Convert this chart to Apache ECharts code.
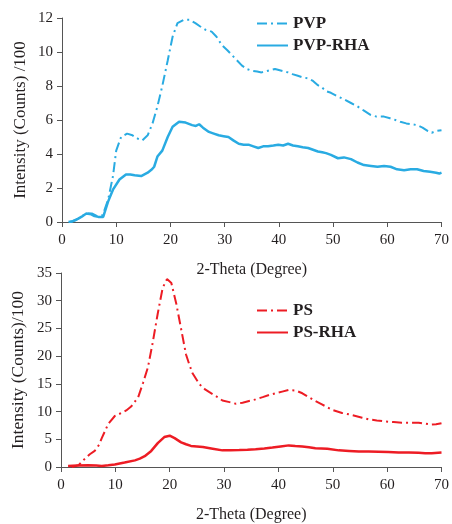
<!DOCTYPE html>
<html>
<head>
<meta charset="utf-8">
<script src="https://cdn.jsdelivr.net/npm/echarts@6/dist/echarts.min.js"></script>
<style>
  html, body { margin: 0; padding: 0; background: #fff; }
  #chart { width: 452px; height: 524px; }
</style>
</head>
<body>
<div id="chart"></div>
<script>
// XRD patterns: intensity (counts/100) against 2-theta (degrees)
const xTicks = [0, 10, 20, 30, 40, 50, 60, 70];

const pvpTheta = [1.5, 2.5, 3.5, 4.5, 5.5, 6.5, 7.5, 8.5, 9.4, 10.0, 10.9, 12.0, 13.0, 14.0, 14.8, 15.8, 16.7, 17.6, 18.5, 19.5, 20.4, 21.3, 22.5, 23.5, 24.6, 25.5, 26.5, 27.6, 28.5, 29.5, 30.5, 31.4, 32.3, 33.2, 34.1, 35.0, 36.0, 36.8, 38.0, 39.3, 40.5, 41.7, 42.5, 43.5, 44.5, 45.4, 46.3, 47.2, 48.0, 48.7, 49.6, 50.8, 52.1, 53.3, 54.5, 55.7, 56.9, 58.0, 59.4, 60.5, 61.5, 62.4, 63.5, 64.5, 65.5, 66.5, 67.5, 68.2, 69.0, 70.0];
const pvpIntensity = [0.0, 0.1, 0.3, 0.5, 0.5, 0.35, 0.4, 1.3, 2.7, 4.2, 5.0, 5.2, 5.1, 4.9, 4.8, 5.1, 5.8, 6.8, 8.0, 9.5, 10.9, 11.7, 11.9, 11.9, 11.7, 11.5, 11.3, 11.2, 10.9, 10.4, 10.1, 9.8, 9.5, 9.2, 9.0, 8.9, 8.85, 8.8, 8.9, 9.0, 8.9, 8.8, 8.7, 8.6, 8.5, 8.45, 8.3, 8.05, 7.9, 7.7, 7.6, 7.4, 7.2, 7.0, 6.8, 6.55, 6.3, 6.2, 6.2, 6.1, 6.0, 5.9, 5.8, 5.75, 5.7, 5.55, 5.35, 5.25, 5.35, 5.4];

const pvpRhaTheta = [1.2, 2.0, 3.0, 3.8, 4.5, 5.4, 6.0, 6.7, 7.6, 8.5, 9.4, 10.6, 11.8, 12.6, 13.4, 14.6, 15.8, 16.6, 17.0, 17.6, 18.5, 19.5, 20.4, 21.6, 22.8, 24.0, 24.7, 25.3, 26.0, 27.1, 28.0, 28.9, 29.8, 30.7, 31.6, 32.6, 33.5, 34.4, 35.3, 36.2, 37.1, 38.0, 39.0, 39.9, 40.8, 41.7, 42.6, 43.5, 44.4, 45.4, 46.3, 47.2, 48.0, 48.7, 49.6, 50.9, 52.0, 53.3, 54.5, 55.7, 57.0, 58.2, 59.4, 60.6, 61.8, 63.1, 64.3, 65.5, 66.7, 67.9, 69.0, 69.6, 70.0];
const pvpRhaIntensity = [0.0, 0.05, 0.2, 0.35, 0.5, 0.45, 0.35, 0.3, 0.3, 1.2, 1.9, 2.5, 2.8, 2.8, 2.75, 2.7, 2.9, 3.1, 3.25, 3.85, 4.2, 5.0, 5.6, 5.9, 5.85, 5.7, 5.65, 5.75, 5.55, 5.3, 5.2, 5.1, 5.05, 5.0, 4.8, 4.6, 4.55, 4.55, 4.45, 4.35, 4.45, 4.45, 4.5, 4.55, 4.5, 4.6, 4.5, 4.45, 4.4, 4.35, 4.25, 4.15, 4.1, 4.05, 3.95, 3.75, 3.8, 3.7, 3.5, 3.35, 3.3, 3.25, 3.3, 3.25, 3.1, 3.05, 3.1, 3.1, 3.0, 2.95, 2.9, 2.85, 2.9];

const psTheta = [2.0, 3.2, 4.4, 5.3, 6.2, 7.0, 7.5, 8.7, 9.9, 11.1, 12.0, 12.9, 14.2, 15.1, 16.0, 16.9, 17.8, 18.7, 19.5, 20.3, 21.2, 22.1, 23.0, 23.6, 24.2, 25.5, 26.5, 27.3, 28.5, 29.7, 31.0, 32.2, 33.4, 34.6, 35.8, 37.1, 38.3, 39.5, 40.7, 41.9, 43.2, 44.4, 45.6, 46.8, 48.0, 49.9, 51.7, 53.0, 54.2, 55.4, 56.6, 58.1, 59.7, 61.2, 62.7, 64.2, 65.8, 67.0, 68.2, 69.0, 70.0];
const psIntensity = [0.0, 0.3, 1.5, 2.3, 2.9, 4.0, 5.2, 7.8, 9.2, 9.75, 10.2, 10.9, 12.6, 15.2, 18.0, 22.6, 27.7, 32.3, 33.9, 33.2, 29.5, 24.9, 20.3, 18.5, 16.9, 14.9, 14.0, 13.5, 12.8, 12.0, 11.7, 11.4, 11.6, 11.9, 12.2, 12.6, 13.0, 13.3, 13.6, 13.9, 13.8, 13.3, 12.6, 11.9, 11.3, 10.3, 9.75, 9.5, 9.2, 8.9, 8.6, 8.4, 8.2, 8.1, 8.0, 8.0, 8.0, 7.8, 7.65, 7.7, 7.9];

const psRhaTheta = [1.3, 3.0, 5.0, 6.5, 7.5, 8.7, 9.9, 11.7, 13.6, 14.5, 15.4, 16.6, 17.8, 19.0, 20.0, 20.9, 22.1, 23.0, 23.9, 25.0, 26.1, 27.9, 29.7, 31.2, 32.8, 34.3, 35.8, 37.4, 38.9, 40.4, 41.9, 43.1, 44.4, 45.6, 46.8, 49.0, 51.1, 53.0, 54.8, 56.6, 58.4, 60.2, 62.1, 64.0, 65.8, 67.0, 68.2, 70.0];
const psRhaIntensity = [0.2, 0.25, 0.3, 0.25, 0.2, 0.3, 0.45, 0.8, 1.2, 1.5, 1.95, 2.9, 4.3, 5.4, 5.65, 5.2, 4.45, 4.1, 3.8, 3.7, 3.6, 3.3, 3.0, 3.0, 3.05, 3.1, 3.2, 3.35, 3.5, 3.7, 3.9, 3.8, 3.7, 3.55, 3.4, 3.3, 3.0, 2.9, 2.8, 2.8, 2.75, 2.7, 2.6, 2.6, 2.55, 2.5, 2.5, 2.6];

const topYTicks = [0, 2, 4, 6, 8, 10, 12];
const bottomYTicks = [0, 5, 10, 15, 20, 25, 30, 35];

const BLUE = '#29abe2';
const RED = '#ed1c24';
const INK = '#231f20';
const AXIS = '#555555';
const SERIF = '"Liberation Serif", "Times New Roman", serif';
const DASH_DOT = [10, 4, 2, 4];

const pairs = (xs, ys) => xs.map((x, i) => [x, ys[i]]);

function xAxisFor(gridIndex) {
  return {
    type: 'value', gridIndex,
    min: xTicks[0], max: xTicks[xTicks.length - 1], interval: xTicks[1] - xTicks[0],
    name: '2-Theta (Degree)', nameLocation: 'middle', nameGap: 40,
    nameTextStyle: { fontFamily: SERIF, fontSize: 16, color: INK },
    axisLine: { show: true, lineStyle: { color: AXIS, width: 1 } },
    axisTick: { show: true, length: 5, lineStyle: { color: AXIS } },
    axisLabel: { fontFamily: SERIF, fontSize: 15, color: INK, margin: 11 },
    splitLine: { show: false }
  };
}

function yAxisFor(gridIndex, ticks, name, nameSize, nameGap) {
  return {
    type: 'value', gridIndex,
    min: ticks[0], max: ticks[ticks.length - 1], interval: ticks[1] - ticks[0],
    name, nameLocation: 'middle', nameGap, nameRotate: 90, nameMoveOverlap: false,
    nameTextStyle: { fontFamily: SERIF, fontSize: nameSize, color: INK },
    axisLine: { show: true, lineStyle: { color: AXIS, width: 1 } },
    axisTick: { show: true, length: 5, lineStyle: { color: AXIS } },
    axisLabel: { fontFamily: SERIF, fontSize: 15, color: INK, margin: 9 },
    splitLine: { show: false }
  };
}

function lineSeries(name, idx, data, color, dashed) {
  return {
    name, type: 'line', xAxisIndex: idx, yAxisIndex: idx,
    data, symbol: 'none', smooth: false, animation: false,
    lineStyle: { color, width: dashed ? 2 : 2.5, type: dashed ? DASH_DOT : 'solid' },
    itemStyle: { color }
  };
}

// Legend keys show only the line (dash-dot or solid), no marker
function legendFor(names, top) {
  return {
    data: names, left: 251, top, orient: 'vertical', itemGap: 5,
    itemWidth: 31, itemHeight: 14,
    itemStyle: { opacity: 0 },
    lineStyle: { width: 2 },
    textStyle: { fontFamily: SERIF, fontSize: 17, fontWeight: 'bold', color: INK }
  };
}

const chart = echarts.init(document.getElementById('chart'), null, { renderer: 'canvas' });
chart.setOption({
  backgroundColor: '#ffffff',
  animation: false,
  grid: [
    { left: 62, right: 8, top: 18, height: 204 },
    { left: 61, right: 8, top: 273, height: 204 }
  ],
  xAxis: [xAxisFor(0), xAxisFor(1)],
  yAxis: [
    yAxisFor(0, topYTicks, 'Intensity (Counts) /100', 17, 33),
    yAxisFor(1, bottomYTicks, 'Intensity (Counts)/100', 17.5, 34)
  ],
  legend: [legendFor(['PVP', 'PVP-RHA'], 10), legendFor(['PS', 'PS-RHA'], 297)],
  series: [
    lineSeries('PVP', 0, pairs(pvpTheta, pvpIntensity), BLUE, true),
    lineSeries('PVP-RHA', 0, pairs(pvpRhaTheta, pvpRhaIntensity), BLUE, false),
    lineSeries('PS', 1, pairs(psTheta, psIntensity), RED, true),
    lineSeries('PS-RHA', 1, pairs(psRhaTheta, psRhaIntensity), RED, false)
  ]
});
</script>
</body>
</html>
